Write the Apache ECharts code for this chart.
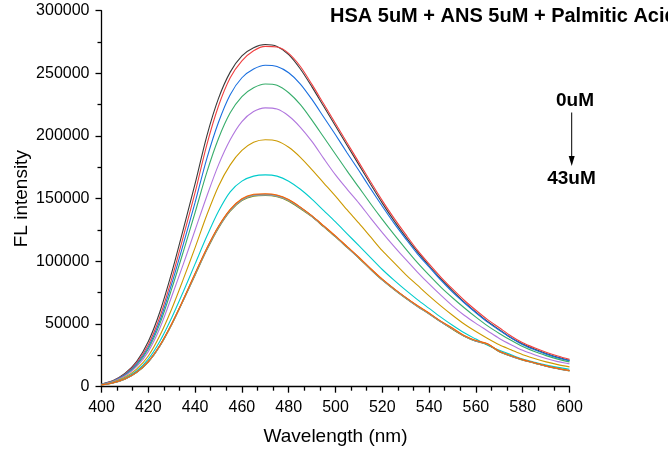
<!DOCTYPE html>
<html>
<head>
<meta charset="utf-8">
<script src="https://cdn.jsdelivr.net/npm/echarts/dist/echarts.min.js"></script>
<style>
html,body{margin:0;padding:0;background:#fff;}
#chart{width:668px;height:455px;}
</style>
</head>
<body>
<div id="chart"></div>
<script>
// Wavelength sample points (nm)
const wavelengths = [400,405,410,415,420,425,430,435,440,445,450,455,460,465,470,475,480,485,490,495,500,505,510,515,520,525,530,535,540,545,550,555,560,565,570,575,580,585,590,595,600];
const xTicks = [400,420,440,460,480,500,520,540,560,580,600];
const yTicks = [0,50000,100000,150000,200000,250000,300000];

// Fluorescence intensity curves, 0uM (top) -> 43uM (bottom)
const curveBlack  = [2200,5000,10500,20000,36000,60000,91000,126000,162000,200000,230000,251000,264000,270500,273000,271500,265000,253500,239000,223500,208000,192500,177000,161500,146500,132500,119500,107500,96500,86000,76500,67500,59500,52000,45500,39000,34000,30000,26500,23500,21000];
const curveRed    = [2100,4800,10000,19000,33500,56000,86000,120000,155000,193000,224000,246500,260000,268000,271500,271000,266000,255500,241000,225500,210000,194500,179000,163500,148500,134500,121500,109000,98000,87500,78000,69000,61000,53500,47000,40500,35000,31000,27500,24500,21800];
const curveBlue   = [2000,4600,9500,18000,31500,53000,82000,114000,147000,182000,211000,233000,246500,253500,256500,255500,250500,241500,229000,215000,201000,186500,172500,158000,144000,130500,118000,106000,95500,85000,75500,67000,59000,51500,45000,39000,33500,29500,26000,23000,20800];
const curveGreen  = [1900,4400,9000,17000,30000,50500,78000,108000,139000,171000,198000,218500,231500,238500,241500,240500,234500,225000,212500,199000,185500,172000,159000,146000,133500,121500,110000,99000,89000,79500,71000,63000,55500,48500,42500,37000,32000,28000,24800,22000,19800];
const curvePurple = [1800,4200,8500,16000,28000,47000,72000,98000,125000,152000,177000,197000,211500,219500,222500,221500,216000,207000,195500,182000,169000,157500,146500,134500,123000,112000,101500,91500,82000,73000,64500,57000,50500,44500,38500,33500,29000,25500,22500,20000,18200];
const curveGold   = [1600,3800,7500,14000,24500,41000,62000,86000,111000,137000,160000,177000,188500,195000,197000,196000,191000,183000,173000,162500,152000,141000,130500,119500,108500,99000,89500,81000,72500,64500,57000,50000,44000,38500,33500,29500,25500,22500,19800,17600,15800];
const curveCyan   = [1500,3400,6800,12500,22000,36500,55000,76000,98000,120000,140000,155500,164000,168000,169000,168000,164000,157500,149500,140500,131500,122000,112500,103000,93500,85000,77000,69500,62500,55500,49000,43000,38000,33000,29000,25500,22000,19500,17200,15400,13900];
const curveC1     = [1400,3100,6200,11500,20000,33000,50000,69500,90000,110000,127500,141000,149500,153000,153500,152500,149000,143000,136000,128000,120000,111500,103000,94000,85500,78000,71000,64500,58500,52000,46000,40500,36500,34000,28000,24500,21500,19000,16500,14500,12800];
const curveC2     = [1400,3000,6000,11200,19600,32500,49500,69000,89000,109000,126500,140000,148500,152000,152500,151500,148000,142000,135500,127500,119500,111000,102500,93500,85000,77500,70500,64000,58000,51700,45800,40300,36200,33700,27800,24300,21200,18800,16300,14300,12600];
const curveC3     = [1400,3100,6100,11400,19800,32800,49800,69200,89500,109500,127000,140500,149000,152500,153000,152000,148500,142500,135800,127800,119800,111200,102800,93800,85200,77800,70800,64200,58200,51800,46200,40400,36300,33900,28000,24400,21400,18900,16400,14400,12700];
const curveC4     = [1420,3120,6150,11450,19900,32900,49900,69300,89800,109800,127300,140800,149300,152800,153200,152200,148800,142800,136000,128000,120000,111400,103000,94000,85400,78000,71000,64400,58400,52000,46300,40500,36600,34100,28200,24500,21500,19000,16500,14500,12800];
const curveC5     = [1450,3150,6300,11600,20200,33300,50300,69800,90500,110500,128000,141500,150000,153500,154000,153000,149300,143300,136300,128300,120300,111800,103300,94300,85800,78300,71300,64800,58800,52300,46800,40800,36800,34300,28300,24700,21600,19100,16600,14600,12900];

const curves = [curveBlack,curveRed,curveBlue,curveGreen,curvePurple,curveGold,curveCyan,curveC1,curveC2,curveC3,curveC4,curveC5];
const colors = ['#3a3a3a','#F14040','#1A6FDF','#37AD6B','#B177DE','#CC9900','#00CBCC','#7D4E4E','#8E8E00','#6699CC','#999999','#FB6501'];

const FONT = '"Liberation Sans", Arial, sans-serif';
const chart = echarts.init(document.getElementById('chart'), null, {renderer:'canvas'});

const axisCommon = {
  axisLine:{show:true, onZero:false, lineStyle:{color:'#000', width:1.3}},
  axisTick:{show:true, inside:false, length:6, lineStyle:{color:'#000', width:1.3}},
  minorTick:{show:true, length:4, lineStyle:{color:'#000', width:1.3}},
  splitLine:{show:false}
};

chart.setOption({
  animation:false,
  backgroundColor:'#fff',
  grid:{left:101.5, right:98.5, top:10.7, bottom:68.3, containLabel:false},
  xAxis: Object.assign({}, axisCommon, {
    type:'value', min:xTicks[0], max:xTicks[xTicks.length-1], interval:xTicks[1]-xTicks[0],
    minorTick:Object.assign({}, axisCommon.minorTick, {splitNumber:3}),
    axisLabel:{color:'#000', fontSize:16, fontFamily:FONT, margin:13, formatter:v=>String(v)},
    name:'Wavelength (nm)', nameLocation:'middle', nameGap:41,
    nameTextStyle:{fontSize:19, fontFamily:FONT, color:'#000'}
  }),
  yAxis: Object.assign({}, axisCommon, {
    type:'value', min:yTicks[0], max:yTicks[yTicks.length-1], interval:yTicks[1]-yTicks[0],
    minorTick:Object.assign({}, axisCommon.minorTick, {splitNumber:2}),
    axisLabel:{color:'#000', fontSize:16, fontFamily:FONT, margin:12, formatter:v=>String(v)},
    name:'FL intensity', nameLocation:'middle', nameGap:70, nameMoveOverlap:false,
    nameTextStyle:{fontSize:19, fontFamily:FONT, color:'#000'}
  }),
  series: curves.map((c,k)=>({
    type:'line',
    data: wavelengths.map((w,i)=>[w, c[i]]),
    showSymbol:false,
    smooth:0.3,
    lineStyle:{width:1.1, color:colors[k]},
    itemStyle:{color:colors[k]},
    z: 2
  })),
  graphic:[
    {type:'text', left:330, top:6.5, style:{text:'HSA 5uM + ANS 5uM + Palmitic Acid', fontSize:20, fontWeight:'bold', fontFamily:FONT, fill:'#000'}},
    {type:'text', style:{x:575, y:101, text:'0uM', align:'center', verticalAlign:'middle', fontSize:19, fontWeight:'bold', fontFamily:FONT, fill:'#000'}},
    {type:'text', style:{x:571.5, y:179, text:'43uM', align:'center', verticalAlign:'middle', fontSize:19, fontWeight:'bold', fontFamily:FONT, fill:'#000'}},
    {type:'line', shape:{x1:571.7, y1:112.5, x2:571.7, y2:158}, style:{stroke:'#000', lineWidth:1}},
    {type:'polygon', shape:{points:[[568.7,156],[574.7,156],[571.7,166]]}, style:{fill:'#000'}}
  ]
});
</script>
</body>
</html>
